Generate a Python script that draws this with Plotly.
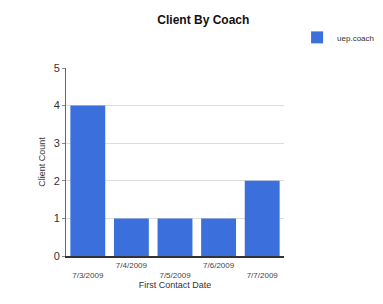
import plotly.graph_objects as go

dates = ["7/3/2009", "7/4/2009", "7/5/2009", "7/6/2009", "7/7/2009"]
counts = [4, 1, 1, 1, 2]
tick_labels = ["<br>7/3/2009", "7/4/2009", "<br>7/5/2009", "7/6/2009", "<br>7/7/2009"]
series_name = "uep.coach"

fig = go.Figure()
fig.add_trace(go.Bar(
    x=dates, y=counts, name=series_name,
    marker=dict(color="#3b6fdb", line=dict(width=0)),
))

fig.update_layout(
    width=383, height=304,
    paper_bgcolor="white", plot_bgcolor="white",
    margin=dict(l=58, r=100, t=60, b=56),
    font=dict(family="Liberation Sans, Arial, sans-serif", color="#222"),
    title=dict(text="<b>Client By Coach</b>", x=0.51, xanchor="center", y=0.975, yanchor="top",
               font=dict(size=12, color="#111")),
    bargap=0.2,
    showlegend=True,
    legend=dict(x=1.06, y=1.24, xanchor="left", yanchor="top",
                font=dict(size=8, color="#333"), bgcolor="rgba(0,0,0,0)",
                itemwidth=30),
    xaxis=dict(
        type="category", tickmode="array", tickvals=dates, ticktext=tick_labels,
        tickfont=dict(size=8, color="#444"), showgrid=False,
        showline=True, linecolor="#333", linewidth=2, ticks="",
        title=dict(text="First Contact Date", font=dict(size=9, color="#333"), standoff=2),
        automargin=False,
    ),
    yaxis=dict(
        range=[0, 5], dtick=1, tickfont=dict(size=11, color="#333"),
        showgrid=True, gridcolor="#dcdcdc", gridwidth=1,
        showline=True, linecolor="#666", linewidth=1, ticks="outside",
        ticklen=3, tickcolor="#888",
        title=dict(text="Client Count", font=dict(size=9, color="#333"), standoff=6),
        zeroline=False, automargin=False,
    ),
)

fig.write_html("out.html")
